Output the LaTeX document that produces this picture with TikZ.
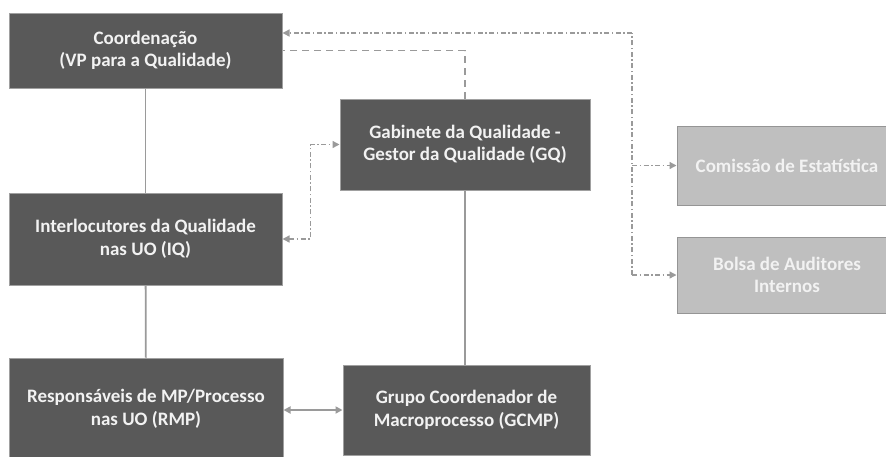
\documentclass[tikz,border=0pt]{standalone}
\usepackage{fontspec}
\setmainfont{Carlito}
\usetikzlibrary{arrows.meta,calc}
\definecolor{boxdark}{HTML}{595959}
\definecolor{boxdarkedge}{HTML}{A0A0A0}
\definecolor{boxlight}{HTML}{BFBFBF}
\definecolor{boxlightedge}{HTML}{959595}
\definecolor{linkgray}{HTML}{9A9A9A}
\definecolor{textlight}{HTML}{F2F2F2}
\tikzset{
  unitbox/.style={rectangle, line width=1pt, align=center, inner sep=0pt,
    font=\fontsize{19}{22.5}\selectfont\bfseries, text=textlight},
  darkbox/.style={unitbox, fill=boxdark, draw=boxdarkedge},
  lightbox/.style={unitbox, fill=boxlight, draw=boxlightedge},
  solidlink/.style={draw=linkgray, line width=1.8pt},
  dashlink/.style={draw=linkgray, line width=1.8pt, dash pattern=on 7pt off 5pt},
  dotlink/.style={draw=linkgray, line width=1.4pt,
    dash pattern=on 5pt off 2.5pt on 1.5pt off 2.5pt},
  tip/.style={-{Triangle[length=7pt,width=7pt]}},
  tips/.style={{Triangle[length=7pt,width=7pt]}-{Triangle[length=7pt,width=7pt]}},
}
\begin{document}
\begin{tikzpicture}[x=1pt,y=-1pt]
  \useasboundingbox (0,0) rectangle (886,456);
  \begin{scope}
  \clip (0,0) rectangle (886,456);

  % organisation boxes
  \node[darkbox, minimum width=273pt, minimum height=75pt] (coord) at (145.5,50.5)
    {Coordenação\\(VP para a Qualidade)};
  \node[darkbox, minimum width=250pt, minimum height=91pt] (gq) at (465,144.5)
    {Gabinete da Qualidade -\\Gestor da Qualidade (GQ)};
  \node[darkbox, minimum width=273pt, minimum height=92pt] (iq) at (145.5,239)
    {Interlocutores da Qualidade\\nas UO (IQ)};
  \node[darkbox, minimum width=274pt, minimum height=102pt] (rmp) at (146,409)
    {Responsáveis de MP/Processo\\nas UO (RMP)};
  \node[darkbox, minimum width=247pt, minimum height=90pt] (gcmp) at (466.5,410)
    {Grupo Coordenador de\\Macroprocesso (GCMP)};
  \node[lightbox, minimum width=220pt, minimum height=79pt] (com) at (787,165.5)
    {Comissão de Estatística};
  \node[lightbox, minimum width=220pt, minimum height=76pt] (bolsa) at (787,275)
    {Bolsa de Auditores\\Internos};

  % hierarchy
  \draw[solidlink] (coord) -- (iq);
  \draw[solidlink] (iq) -- (rmp);
  \draw[solidlink] (gq.south) -- (gq.south |- gcmp.north);
  \draw[solidlink, tips] (rmp.east |- gcmp.west) -- (gcmp.west);

  % functional links
  \draw[dashlink] (gq.north) |- (coord.east);
  \coordinate (jt) at (632,33);
  \coordinate (jc) at (632,165.5);
  \coordinate (jb) at (632,275);
  \draw[dotlink] (jb) -- (jt);
  \draw[dotlink, tip] (jt) -- (coord.east |- jt);
  \draw[dotlink, tip] (jc) -- (com.west);
  \draw[dotlink, tip] (jb) -- (bolsa.west);
  \draw[dotlink, tips] (iq.east) -- ++(28,0) |- (gq.west);
  \end{scope}
\end{tikzpicture}
\end{document}
